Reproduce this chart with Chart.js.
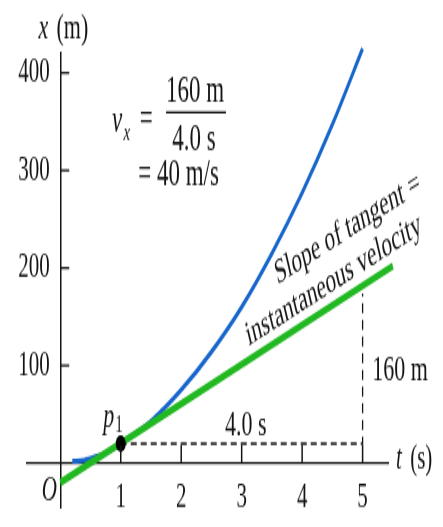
<!DOCTYPE html>
<html>
  <head>
    <title>x-t graph with tangent</title>
    <script src="https://cdn.jsdelivr.net/npm/chart.js"></script>
    <style>
      body {
        margin: 0;
        background: #fff;
      }
      #chart {
        display: block;
        width: 443px;
        height: 527px;
      }
    </style>
  </head>
  <body>
    <canvas id="chart" width="443" height="316" style="width: 443px; height: 527px"></canvas>

    <script>
      // position curve x(t)
      const curveT = [0.2, 0.4, 0.6, 0.8, 1, 1.5, 2, 2.5, 3, 3.5, 4, 4.5, 5];
      const curveX = [2, 3, 7, 12, 20, 43, 75, 114, 160, 215, 277, 347, 425];

      // tangent line at p1
      const tangentT = [0, 5.5];
      const tangentX = [-20, 202];

      // point p1
      const p1T = [1];
      const p1X = [20];

      // dashed run / rise guide
      const guideT = [1, 5, 5];
      const guideX = [20, 20, 174];

      // tick labels
      const xTicks = [1, 2, 3, 4, 5];
      const yTicks = [100, 200, 300, 400];

      const serif = "'Liberation Serif', 'Times New Roman', serif";
      const ink = "#141414";

      function pts(ts, xs) {
        return ts.map((t, i) => ({ x: t, y: xs[i] }));
      }

      const annotate = {
        id: "annotate",
        afterDatasetsDraw(chart) {
          const { ctx, scales } = chart;
          const px = (t) => scales.x.getPixelForValue(t);
          const py = (v) => scales.y.getPixelForValue(v);

          ctx.save();
          ctx.strokeStyle = ink;
          ctx.fillStyle = ink;

          // inward tick marks
          ctx.lineWidth = 1.3;
          yTicks.forEach((v) => {
            ctx.beginPath();
            ctx.moveTo(px(0), py(v));
            ctx.lineTo(px(0) + 9, py(v));
            ctx.stroke();
          });
          ctx.lineWidth = 1.5;
          xTicks.forEach((t) => {
            ctx.beginPath();
            ctx.moveTo(px(t), py(0));
            ctx.lineTo(px(t), py(0) - 11);
            ctx.stroke();
          });

          function text(s, t, v, size, style, align) {
            ctx.font = (style || "") + " " + size + "px " + serif;
            ctx.textAlign = align || "center";
            ctx.textBaseline = "middle";
            ctx.fillText(s, px(t), py(v));
          }

          // axis titles and origin
          text("x", -0.28, 445, 22, "italic");
          text("(m)", 0.2, 445, 22, "");
          text("t", 5.6, 3, 21, "italic");
          text("(s)", 5.97, 3, 21, "");
          text("O", -0.18, -28, 21, "italic");

          // p1 label
          text("p", 0.8, 47, 22, "italic");
          text("1", 0.97, 39, 15, "");

          // run and rise
          text("4.0 s", 3.07, 38, 22, "");
          text("160 m", 5.62, 95, 22, "");

          // v_x = 160 m / 4.0 s = 40 m/s
          text("v", 0.94, 350, 23, "italic");
          text("x", 1.1, 338, 15, "italic");
          text("=", 1.42, 351, 23, "");
          text("160 m", 2.23, 381, 23, "");
          text("4.0 s", 2.21, 332, 23, "");
          ctx.lineWidth = 1.4;
          ctx.beginPath();
          ctx.moveTo(px(1.75), py(359.5));
          ctx.lineTo(px(2.74), py(359.5));
          ctx.stroke();
          text("= 40 m/s", 1.29, 295, 23, "", "left");

          // rotated label along the tangent
          const ang = Math.atan2(
            py(tangentX[1]) - py(tangentX[0]),
            px(tangentT[1]) - px(tangentT[0])
          );
          ctx.font = "21px " + serif;
          ctx.textAlign = "center";
          ctx.textBaseline = "middle";
          [
            ["Slope of tangent =", 4.75, 240],
            ["instantaneous velocity", 4.52, 187],
          ].forEach(([s, t, v]) => {
            ctx.save();
            ctx.translate(px(t), py(v));
            ctx.rotate(ang);
            ctx.fillText(s, 0, 0);
            ctx.restore();
          });

          ctx.restore();
        },
      };

      new Chart(document.getElementById("chart"), {
        type: "line",
        data: {
          datasets: [
            {
              data: pts(guideT, guideX),
              borderColor: ink,
              borderWidth: 1.3,
              borderDash: [6, 4],
              pointRadius: 0,
              tension: 0,
              order: 3,
            },
            {
              data: pts(tangentT, tangentX),
              borderColor: "#22b822",
              borderWidth: 4.5,
              pointRadius: 0,
              clip: false,
              order: 1,
            },
            {
              data: pts(curveT, curveX),
              borderColor: "#1766cc",
              borderWidth: 3,
              pointRadius: 0,
              cubicInterpolationMode: "monotone",
              clip: false,
              order: 2,
            },
            {
              data: pts(p1T, p1X),
              showLine: false,
              pointRadius: 5,
              pointBackgroundColor: "#000",
              pointBorderWidth: 0,
              order: 0,
            },
          ],
        },
        options: {
          responsive: false,
          devicePixelRatio: 1,
          animation: false,
          layout: { padding: { left: 27, right: 55, top: 32, bottom: 12 } },
          plugins: {
            legend: { display: false },
            tooltip: { enabled: false },
          },
          scales: {
            x: {
              type: "linear",
              position: { y: 0 },
              min: -0.55,
              max: 5.42,
              afterBuildTicks: (s) => {
                s.ticks = xTicks.map((v) => ({ value: v }));
              },
              grid: { drawOnChartArea: false, drawTicks: false },
              border: { display: true, color: ink, width: 1.3 },
              ticks: {
                color: ink,
                padding: 8,
                maxRotation: 0,
                font: { family: serif, size: 21 },
              },
            },
            y: {
              type: "linear",
              position: { x: 0 },
              min: -45,
              max: 420,
              afterBuildTicks: (s) => {
                s.ticks = yTicks.map((v) => ({ value: v }));
              },
              grid: { drawOnChartArea: false, drawTicks: false },
              border: { display: true, color: ink, width: 1.5 },
              ticks: {
                color: ink,
                padding: 0,
                font: { family: serif, size: 21, lineHeight: 1 },
                callback: (v) => v + "\u2002",
              },
            },
          },
        },
        plugins: [annotate],
      });
    </script>
  </body>
</html>
